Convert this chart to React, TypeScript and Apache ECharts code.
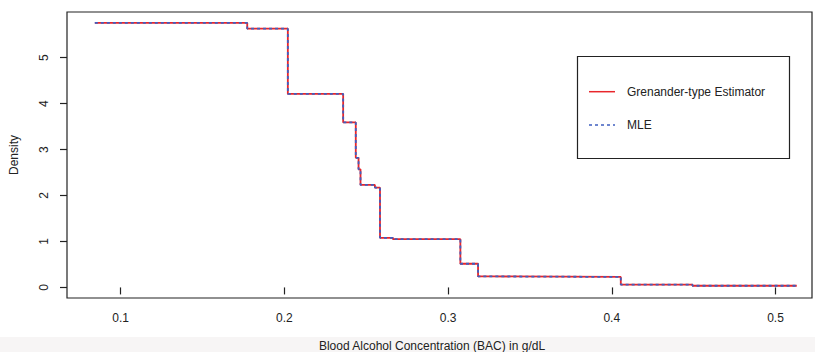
import React, { useEffect, useRef } from "react";
import * as echarts from "echarts";

// Step function breakpoints (BAC, g/dL) and density levels between them
const breaks = [0.0842, 0.1773, 0.2021, 0.2359, 0.2436, 0.2453, 0.2465, 0.2553, 0.2584, 0.2663, 0.3075, 0.3183, 0.327, 0.4055, 0.4493, 0.513];
const grenander = [5.755, 5.63, 4.21, 3.59, 2.82, 2.57, 2.23, 2.17, 1.08, 1.05, 0.515, 0.24, 0.228, 0.06, 0.037];
const mle = [5.755, 5.63, 4.21, 3.59, 2.82, 2.57, 2.23, 2.17, 1.08, 1.05, 0.515, 0.24, 0.228, 0.06, 0.037];
const xTicks = [0.1, 0.2, 0.3, 0.4, 0.5];
const yTicks = [0, 1, 2, 3, 4, 5];

const FONT = "'Liberation Sans', Arial, Helvetica, sans-serif";

function stepData(levels: number[]) {
  const pts: number[][] = levels.map((v, i) => [breaks[i], v]);
  pts.push([breaks[breaks.length - 1], levels[levels.length - 1]]);
  return pts;
}

export default function App() {
  const ref = useRef<HTMLDivElement>(null);
  useEffect(() => {
    if (!ref.current) return;
    const chart = echarts.init(ref.current, null, { renderer: "svg" });
    chart.setOption({
      animation: false,
      backgroundColor: "#ffffff",
      grid: {
        left: 62,
        top: 12,
        width: 750,
        height: 286,
        show: true,
        borderColor: "#222",
        borderWidth: 1.2,
        backgroundColor: "transparent",
      },
      xAxis: {
        type: "value",
        min: 0.0672,
        max: 0.5223,
        axisLine: { show: false },
        splitLine: { show: false },
        axisTick: {
          show: true,
          length: 7,
          inside: false,
          customValues: xTicks,
          lineStyle: { color: "#222", width: 1.2 },
        },
        axisLabel: {
          customValues: xTicks,
          margin: 14,
          fontSize: 12,
          color: "#222",
          fontFamily: FONT,
          formatter: (v: number) => v.toFixed(1),
        },
      },
      yAxis: {
        type: "value",
        min: -0.23,
        max: 5.993,
        axisLine: { show: false },
        splitLine: { show: false },
        axisTick: {
          show: true,
          length: 7,
          customValues: yTicks,
          lineStyle: { color: "#222", width: 1.2 },
        },
        axisLabel: {
          customValues: yTicks,
          rotate: 90,
          margin: 17,
          fontSize: 12,
          color: "#222",
          fontFamily: FONT,
        },
        name: "Density",
        nameLocation: "middle",
        nameRotate: 90,
        nameGap: 47,
        nameTextStyle: { fontSize: 12, color: "#222", fontFamily: FONT },
      },
      series: [
        {
          name: "Grenander-type Estimator",
          type: "line",
          step: "end",
          data: stepData(grenander),
          showSymbol: false,
          lineStyle: { color: "#e8262b", width: 1.8 },
          z: 2,
        },
        {
          name: "MLE",
          type: "line",
          step: "end",
          data: stepData(mle),
          showSymbol: false,
          lineStyle: { color: "#3f5fc0", width: 1.8, type: [3, 3] },
          z: 3,
        },
      ],
      graphic: [
        {
          type: "rect",
          shape: { x: 0, y: 337, width: 815, height: 15 },
          style: { fill: "#f7f5f5" },
          z: -1,
        },
        {
          type: "text",
          x: 432,
          y: 346,
          style: {
            text: "Blood Alcohol Concentration (BAC) in g/dL",
            fontSize: 12,
            fill: "#222",
            fontFamily: FONT,
            align: "center",
            verticalAlign: "middle",
          },
        },
        {
          type: "rect",
          shape: { x: 577.5, y: 56.5, width: 212, height: 102 },
          style: { fill: "#fff", stroke: "#222", lineWidth: 1.2 },
          z: 10,
        },
        {
          type: "line",
          shape: { x1: 589, y1: 91.7, x2: 615, y2: 91.7 },
          style: { stroke: "#e8262b", lineWidth: 1.5 },
          z: 11,
        },
        {
          type: "line",
          shape: { x1: 589, y1: 125, x2: 615, y2: 125 },
          style: { stroke: "#3f5fc0", lineWidth: 1.5, lineDash: [3, 3] },
          z: 11,
        },
        {
          type: "text",
          x: 627,
          y: 91.7,
          style: {
            text: "Grenander-type Estimator",
            fontSize: 12,
            fill: "#222",
            fontFamily: FONT,
            verticalAlign: "middle",
          },
          z: 11,
        },
        {
          type: "text",
          x: 627,
          y: 125,
          style: {
            text: "MLE",
            fontSize: 12,
            fill: "#222",
            fontFamily: FONT,
            verticalAlign: "middle",
          },
          z: 11,
        },
      ],
    });
    return () => chart.dispose();
  }, []);
  return (
    <div
      ref={ref}
      style={{ position: "fixed", left: 0, top: 0, width: 815, height: 352 }}
    />
  );
}
